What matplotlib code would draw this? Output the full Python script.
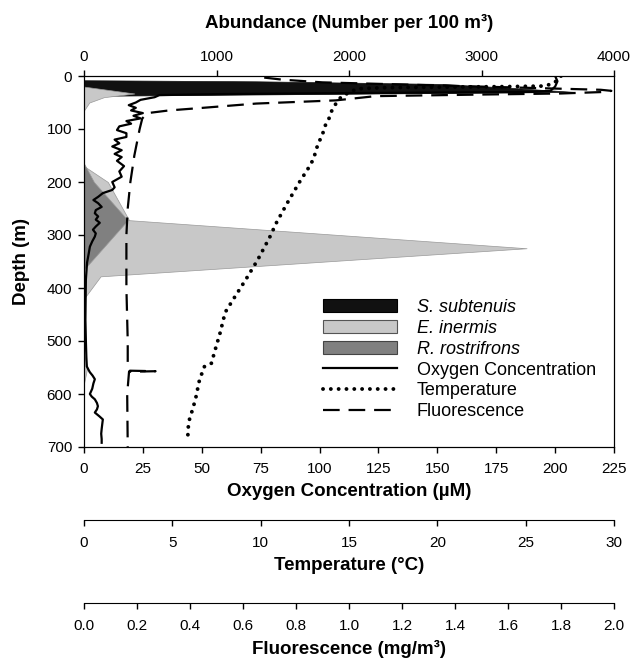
import matplotlib

matplotlib.use("Agg")

import matplotlib.pyplot as plt
from matplotlib.patches import Patch
from matplotlib.lines import Line2D

plt.rcParams["font.family"] = ["Liberation Sans", "DejaVu Sans"]

# abundance profiles (number per 100 m3) vs depth (m)
ss_depth = [8, 10, 15, 22, 30, 37.5]
ss_abund = [0, 1300, 2700, 3200, 3700, 0]

ei_depth = [0, 20, 33, 40, 50, 65, 170, 200, 272, 325, 378, 420, 525, 550, 580, 700]
ei_abund = [0, 0, 380, 150, 40, 0, 0, 180, 340, 3340, 125, 0, 0, 25, 0, 0]

rr_depth = [165, 200, 272, 365]
rr_abund = [0, 75, 330, 0]

# oxygen (uM)
oxy_depth = [0, 10, 20, 28, 30, 32, 34, 36, 40, 45, 50, 55, 60, 65, 70, 75, 80, 85,
             90, 95, 102, 108, 115, 120, 127, 133, 140, 147, 153, 160, 170, 180, 190,
             200, 210, 215, 221, 228, 234, 240, 247, 253, 259, 265, 271, 277, 284, 290,
             297, 303, 312, 322, 335, 352, 384, 420, 460, 500, 530, 548, 555, 559, 565,
             572, 580, 590, 600, 605, 610, 617, 623, 629, 635, 642, 648, 655, 666, 675,
             685, 692]
oxy_val = [200, 201, 200, 198, 190, 120, 60, 32, 30, 24, 22, 19, 22, 20, 25, 21, 24, 18,
           20, 15, 14, 18, 18, 13, 15, 12, 16, 13, 16, 14, 17, 15, 16,
           12, 13, 12, 8, 6, 4, 6, 7.5, 5, 4.6, 6, 5, 6.7, 5, 3.8,
           5, 4.6, 3.5, 2.5, 2, 1.3, 0.8, 0.7, 0.6, 0.8, 1.0, 1.2, 2.0, 2.5, 3.6,
           4.6, 4.0, 3.5, 2.5, 3.3, 4.6, 5.5, 5.9, 5.5, 4.6, 6.5, 8, 7.8, 7.5, 7.3,
           7.5, 7.5]

# temperature (deg C)
temp_depth = [0, 5, 8, 15, 19, 20, 21, 22, 24, 28, 33, 38, 44, 55, 69, 82, 95, 108, 121,
              135, 151, 166, 200, 240, 277, 305, 347, 384, 416, 446, 484, 516, 542, 548,
              573, 610, 642, 653, 683, 690]
temp_val = [27.0, 26.9, 26.8, 26.5, 26.0, 24.0, 20.0, 17.0, 15.5, 15.2, 14.9, 14.6, 14.44,
            14.2, 13.97, 13.85, 13.63, 13.52, 13.35, 13.18, 13.04, 12.85, 12.2, 11.5, 10.89,
            10.5, 9.83, 9.16, 8.55, 7.99, 7.71, 7.43, 7.21, 6.82, 6.54, 6.31, 6.03, 5.92,
            5.87, 5.85]

# fluorescence (mg/m3)
fl_depth = [3, 7, 12, 20, 26, 28, 30, 33, 35, 38, 46, 52, 60, 65, 70, 80, 100, 150, 200,
            250, 300, 400, 500, 550, 556, 557, 558, 600, 700]
fl_val = [0.68, 0.75, 0.9, 1.5, 1.95, 1.99, 1.97, 1.8, 1.5, 1.1, 0.95, 0.65, 0.45, 0.32,
          0.24, 0.22, 0.21, 0.19, 0.175, 0.165, 0.16, 0.16, 0.165, 0.165, 0.17, 0.27,
          0.17, 0.163, 0.165]

fig = plt.figure(figsize=(6.32, 6.63), dpi=100)
fig.patch.set_facecolor("white")
ax = fig.add_axes([84 / 632, 1 - 447 / 663, 530 / 632, 371 / 663])
ax_o = ax.twiny()
ax_t = ax.twiny()
ax_f = ax.twiny()

tick_kw = dict(labelsize=11, length=4.5, width=1, direction="out")
label_kw = dict(fontsize=13.5, fontweight="bold")

# species fills on the abundance axis (top)
ax.fill_betweenx(ss_depth, 0, ss_abund, color="#111111", lw=0.5)
ax.fill_betweenx(ei_depth, 0, ei_abund, facecolor="#c8c8c8", edgecolor="#999999", lw=0.5)
ax.fill_betweenx(rr_depth, 0, rr_abund, facecolor="#808080", edgecolor="#999999", lw=0.5)
ax.set_xlim(0, 4000)
ax.set_ylim(700, 0)
ax.set_xticks([0, 1000, 2000, 3000, 4000])
ax.set_yticks(range(0, 701, 100))
ax.xaxis.tick_top()
ax.xaxis.set_label_position("top")
ax.set_xlabel("Abundance (Number per 100 m³)", labelpad=16, **label_kw)
ax.set_ylabel("Depth (m)", labelpad=12, **label_kw)
ax.tick_params(pad=4, **tick_kw)

# oxygen (bottom axis)
ax_o.plot(oxy_val, oxy_depth, color="black", lw=1.6)
ax_o.set_xlim(0, 225)
ax_o.set_xticks(range(0, 226, 25))
ax_o.xaxis.tick_bottom()
ax_o.xaxis.set_label_position("bottom")
ax_o.set_xlabel("Oxygen Concentration (µM)", labelpad=5, **label_kw)
ax_o.tick_params(pad=6, **tick_kw)

# temperature (offset axis)
ax_t.plot(temp_val, temp_depth, color="black", lw=2.8,
          linestyle=(0, (0.01, 2.0)), dash_capstyle="round")
ax_t.set_xlim(0, 30)
ax_t.set_xticks(range(0, 31, 5))
ax_t.xaxis.tick_bottom()
ax_t.xaxis.set_label_position("bottom")
ax_t.spines["bottom"].set_position(("outward", 52.6))
for side in ("top", "left", "right"):
    ax_t.spines[side].set_visible(False)
ax_t.set_xlabel("Temperature (°C)", labelpad=5, **label_kw)
ax_t.tick_params(pad=7, **tick_kw)

# fluorescence (offset axis)
ax_f.plot(fl_val, fl_depth, color="black", lw=1.6, linestyle=(0, (7.5, 4)))
ax_f.set_xlim(0, 2)
ax_f.set_xticks([i / 5 for i in range(11)])
ax_f.set_xticklabels([f"{i / 5:.1f}" for i in range(11)])
ax_f.xaxis.tick_bottom()
ax_f.xaxis.set_label_position("bottom")
ax_f.spines["bottom"].set_position(("outward", 112.3))
for side in ("top", "left", "right"):
    ax_f.spines[side].set_visible(False)
ax_f.set_xlabel("Fluorescence (mg/m³)", labelpad=5, **label_kw)
ax_f.tick_params(pad=7, **tick_kw)

handles = [
    Patch(facecolor="#111111", edgecolor="black", lw=0.8, label="S. subtenuis"),
    Patch(facecolor="#c8c8c8", edgecolor="#555555", lw=0.8, label="E. inermis"),
    Patch(facecolor="#808080", edgecolor="#444444", lw=0.8, label="R. rostrifrons"),
    Line2D([], [], color="black", lw=1.6, label="Oxygen Concentration"),
    Line2D([], [], color="black", lw=2.8, linestyle=(0, (0.01, 2.0)),
           dash_capstyle="round", label="Temperature"),
    Line2D([], [], color="black", lw=1.6, linestyle=(0, (7.5, 4)), label="Fluorescence"),
]
leg = ax_f.legend(handles=handles, loc="upper left", bbox_to_anchor=(0.451, 0.40),
                  frameon=False, fontsize=13, handlelength=4.1, handleheight=0.7,
                  handletextpad=1.1, labelspacing=0.22, borderpad=0, borderaxespad=0)
for text in leg.get_texts()[:3]:
    text.set_fontstyle("italic")

fig.savefig("out.png", dpi=100, facecolor="white")
